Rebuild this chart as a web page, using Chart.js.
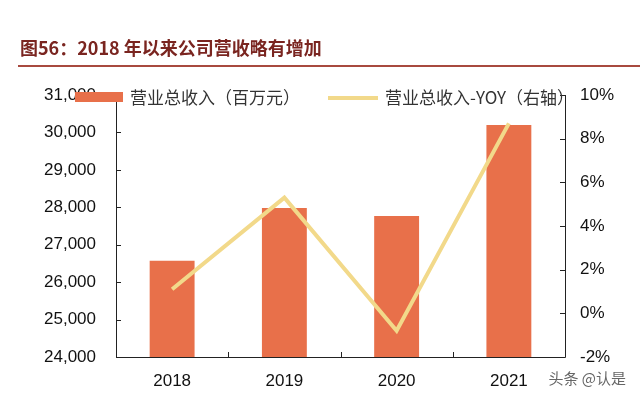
<!DOCTYPE html>
<html>
<head>
<meta charset="utf-8">
<script src="https://cdn.jsdelivr.net/npm/chart.js@4"></script>
<style>
  body { margin: 0; background: #fff; }
  #wrap { position: relative; width: 640px; height: 402px; overflow: hidden; }
  #chart { position: absolute; left: 0; top: 0; }
  .title {
    position: absolute; left: 20px; top: 34px;
    font: bold 18px "Noto Sans CJK SC", "Liberation Sans", sans-serif;
    color: #7a2520; white-space: nowrap; line-height: 26px;
  }
  .rule { position: absolute; left: 18px; top: 65px; width: 622px; height: 2px; background: #a84a3f; }
  .leg { position: absolute; top: 85px; font: 17px "Noto Sans CJK SC", sans-serif; color: #333; white-space: nowrap; line-height: 24px; }
  .swatch { position: absolute; }
  .mark { position: absolute; right: 14px; top: 367px; font: 15px "Noto Sans CJK SC", sans-serif; color: #666; }
</style>
</head>
<body>
<div id="wrap">
  <canvas id="chart" width="640" height="402"></canvas>
  <div class="title">图56：2018 年以来公司营收略有增加</div>
  <div class="rule"></div>
  <div class="swatch" style="left:75px;top:92px;width:48px;height:10px;background:#e8704a"></div>
  <div class="leg" style="left:130px">营业总收入（百万元）</div>
  <div class="swatch" style="left:328px;top:96px;width:50px;height:4px;background:#f2d98a"></div>
  <div class="leg" style="left:385px">营业总收入-YOY（右轴）</div>
  <div class="mark">头条 @认是</div>
</div>
<script>
const anos = ["2018", "2019", "2020", "2021"];
const ingresos = [26570, 27980, 27770, 30200];
const yoy = [1.1, 5.3, -0.8, 8.7];

const marcas = {
  id: "marcas",
  afterDraw(chart) {
    const ctx = chart.ctx;
    const a = chart.chartArea;
    const y = chart.scales.y;
    const y1 = chart.scales.y1;
    const x = chart.scales.x;
    ctx.save();
    ctx.strokeStyle = "#222";
    ctx.lineWidth = 1;
    ctx.beginPath();
    ctx.moveTo(a.left + 0.5, a.top);
    ctx.lineTo(a.left + 0.5, a.bottom + 0.5);
    ctx.lineTo(a.right + 0.5, a.bottom + 0.5);
    ctx.lineTo(a.right + 0.5, a.top);
    y.ticks.forEach((t) => {
      const p = Math.round(y.getPixelForValue(t.value)) + 0.5;
      ctx.moveTo(a.left, p);
      ctx.lineTo(a.left + 5, p);
    });
    y1.ticks.forEach((t) => {
      const p = Math.round(y1.getPixelForValue(t.value)) + 0.5;
      ctx.moveTo(a.right, p);
      ctx.lineTo(a.right - 5, p);
    });
    for (let i = 1; i < anos.length; i++) {
      const p = Math.round((x.getPixelForValue(i - 1) + x.getPixelForValue(i)) / 2) + 0.5;
      ctx.moveTo(p, a.bottom);
      ctx.lineTo(p, a.bottom - 5);
    }
    ctx.stroke();
    ctx.restore();
  },
};

const fuente = { family: "'Liberation Sans', Arial, sans-serif", size: 17 };

new Chart(document.getElementById("chart"), {
  data: {
    labels: anos,
    datasets: [
      {
        type: "line",
        label: "营业总收入-YOY（右轴）",
        data: yoy,
        yAxisID: "y1",
        borderColor: "#f2d98a",
        borderWidth: 4,
        pointRadius: 0,
        tension: 0,
        order: 0,
      },
      {
        type: "bar",
        label: "营业总收入（百万元）",
        data: ingresos,
        yAxisID: "y",
        backgroundColor: "#e8704a",
        barPercentage: 0.4,
        categoryPercentage: 1,
        order: 1,
      },
    ],
  },
  options: {
    responsive: false,
    animation: false,
    layout: { padding: { top: 95, left: 0, right: 0, bottom: 0 } },
    plugins: { legend: { display: false }, tooltip: { enabled: false } },
    scales: {
      x: {
        grid: { display: false, drawTicks: false },
        border: { display: false },
        ticks: { color: "#111", font: fuente, padding: 14 },
        afterFit: (s) => { s.height = 45; },
      },
      y: {
        position: "left",
        min: 24000,
        max: 31000,
        grid: { display: false, drawTicks: false },
        border: { display: false },
        ticks: {
          stepSize: 1000,
          color: "#111",
          font: fuente,
          padding: 20,
          callback: (v) => v.toLocaleString("en-US"),
        },
        afterFit: (s) => { s.width = 116; },
      },
      y1: {
        position: "right",
        min: -2,
        max: 10,
        grid: { display: false, drawTicks: false },
        border: { display: false },
        ticks: {
          stepSize: 2,
          color: "#111",
          font: fuente,
          padding: 15,
          callback: (v) => v + "%",
        },
        afterFit: (s) => { s.width = 75; },
      },
    },
  },
  plugins: [marcas],
});
</script>
</body>
</html>
